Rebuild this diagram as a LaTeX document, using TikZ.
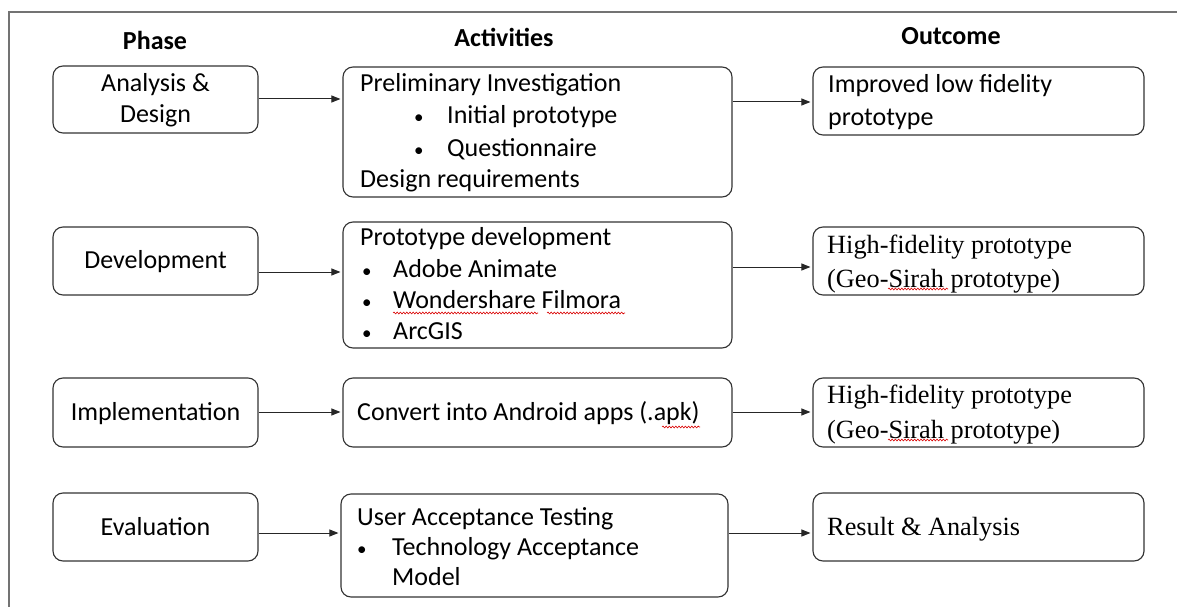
\documentclass[tikz,border=0pt]{standalone}
\usepackage{fontspec}
\setmainfont{Carlito}
\newfontfamily\timesfont{Liberation Serif}
\usetikzlibrary{arrows.meta,decorations.pathmorphing}
\newcommand{\itemdot}{{\fontsize{19}{19}\selectfont\textbullet}}
\begin{document}
\begin{tikzpicture}[x=1pt,y=-1pt,
  box/.style={draw=black!80, line width=1.15pt, rounded corners=10pt, inner sep=0pt},
  txt/.style={anchor=base west, inner sep=0pt, font=\fontsize{26}{31.7}\selectfont},
  ctxt/.style={anchor=base, inner sep=0pt, font=\fontsize{26}{31.7}\selectfont},
  serif/.style={anchor=base west, inner sep=0pt, font=\fontsize{26.3}{34}\timesfont},
  head/.style={anchor=base, inner sep=0pt, font=\fontsize{26}{31.7}\selectfont\bfseries},
  flow/.style={-{Triangle[length=9pt,width=7pt]}, line width=1pt, draw=black!85, shorten >=2pt},
  spell/.style={draw=red!85!black, line width=0.6pt, decorate,
    decoration={snake, amplitude=0.9pt, segment length=3.2pt}},
  frame/.style={draw=black!55, line width=1.6pt}]
\useasboundingbox (0,0) rectangle (1177,607);

% outer frame (top and left edges)
\draw[frame] (9,607) -- (9,12) -- (1177,12);

% column headings
\node[head] (hphase) at (155,50) {Phase};
\node[head] (hact)   at (504,47) {Activities};
\node[head] (hout)   at (951,45) {Outcome};

% phase boxes
\node[box, minimum width=205pt, minimum height=67pt] (p1) at (155.5,99.5) {};
\node[box, minimum width=205pt, minimum height=68pt] (p2) at (155.5,261) {};
\node[box, minimum width=205pt, minimum height=69pt] (p3) at (155.5,412.5) {};
\node[box, minimum width=205pt, minimum height=68pt] (p4) at (155.5,527) {};

% activity boxes
\node[box, minimum width=389pt, minimum height=130pt] (a1) at (537.5,132) {};
\node[box, minimum width=389pt, minimum height=126pt] (a2) at (537.5,285) {};
\node[box, minimum width=389pt, minimum height=69pt]  (a3) at (537.5,412.5) {};
\node[box, minimum width=387pt, minimum height=103pt] (a4) at (534.5,545.5) {};

% outcome boxes
\node[box, minimum width=331pt, minimum height=68pt] (o1) at (978.5,101) {};
\node[box, minimum width=331pt, minimum height=68pt] (o2) at (978.5,261) {};
\node[box, minimum width=331pt, minimum height=69pt] (o3) at (978.5,412.5) {};
\node[box, minimum width=331pt, minimum height=68pt] (o4) at (978.5,527) {};

% phase labels
\node[ctxt] (p1a) at (155.5,92)  {Analysis \&};
\node[ctxt] (p1b) at (155.5,123) {Design};
\node[ctxt] (p2t) at (155.5,268) {Development};
\node[ctxt] (p3t) at (155.5,420) {Implementation};
\node[ctxt] (p4t) at (155.5,535.5) {Evaluation};

% activity texts
\node[txt] (a1t1) at (360,92)  {Preliminary Investigation};
\node[txt] (a1b1) at (414,124) {\itemdot};
\node[txt] (a1t2) at (447,124) {Initial prototype};
\node[txt] (a1b2) at (414,156) {\itemdot};
\node[txt] (a1t3) at (447,156) {Questionnaire};
\node[txt] (a1t4) at (360,187) {Design requirements};

\node[txt] (a2t1) at (360,245) {Prototype development};
\node[txt] (a2b1) at (362,277) {\itemdot};
\node[txt] (a2t2) at (393,277) {Adobe Animate};
\node[txt] (a2b2) at (362,308) {\itemdot};
\node[txt] (a2t3) at (393,308) {Wondershare Filmora};
\node[txt] (a2b3) at (362,339) {\itemdot};
\node[txt] (a2t4) at (393,339) {ArcGIS};

\node[txt] (a3t1) at (357,420) {Convert into Android apps (.apk)};

\node[txt] (a4t1) at (357,525) {User Acceptance Testing};
\node[txt] (a4b1) at (357,555) {\itemdot};
\node[txt] (a4t2) at (392,555) {Technology Acceptance};
\node[txt] (a4t3) at (392,585) {Model};

% outcome texts
\node[txt] (o1t1) at (828,93)  {Improved low fidelity};
\node[txt] (o1t2) at (828,125) {prototype};
\node[serif] (o2t1) at (827,253) {High-fidelity prototype};
\node[serif] (o2t2) at (827,287) {(Geo-Sirah prototype)};
\node[serif] (o3t1) at (827,403) {High-fidelity prototype};
\node[serif] (o3t2) at (827,438) {(Geo-Sirah prototype)};
\node[serif] (o4t1) at (827,535) {Result \& Analysis};

% spelling marks under flagged words
\draw[spell] (393,313) -- (538,313);
\draw[spell] (547,313) -- (625,313);
\draw[spell] (662,427) -- (700,427);
\draw[spell] (888,289) -- (948,289);
\draw[spell] (888,440) -- (948,440);

% arrow rows
\coordinate (r1a) at (0,99);
\coordinate (r1b) at (0,102);
\coordinate (r2a) at (0,272);
\coordinate (r2b) at (0,267);
\coordinate (r3)  at (0,412);
\coordinate (r4)  at (0,533);

\draw[flow] (p1.east |- r1a) -- (a1.west |- r1a);
\draw[flow] (a1.east |- r1b) -- (o1.west |- r1b);
\draw[flow] (p2.east |- r2a) -- (a2.west |- r2a);
\draw[flow] (a2.east |- r2b) -- (o2.west |- r2b);
\draw[flow] (p3.east |- r3) -- (a3.west |- r3);
\draw[flow] (a3.east |- r3) -- (o3.west |- r3);
\draw[flow] (p4.east |- r4) -- (a4.west |- r4);
\draw[flow] (a4.east |- r4) -- (o4.west |- r4);
\end{tikzpicture}
\end{document}
